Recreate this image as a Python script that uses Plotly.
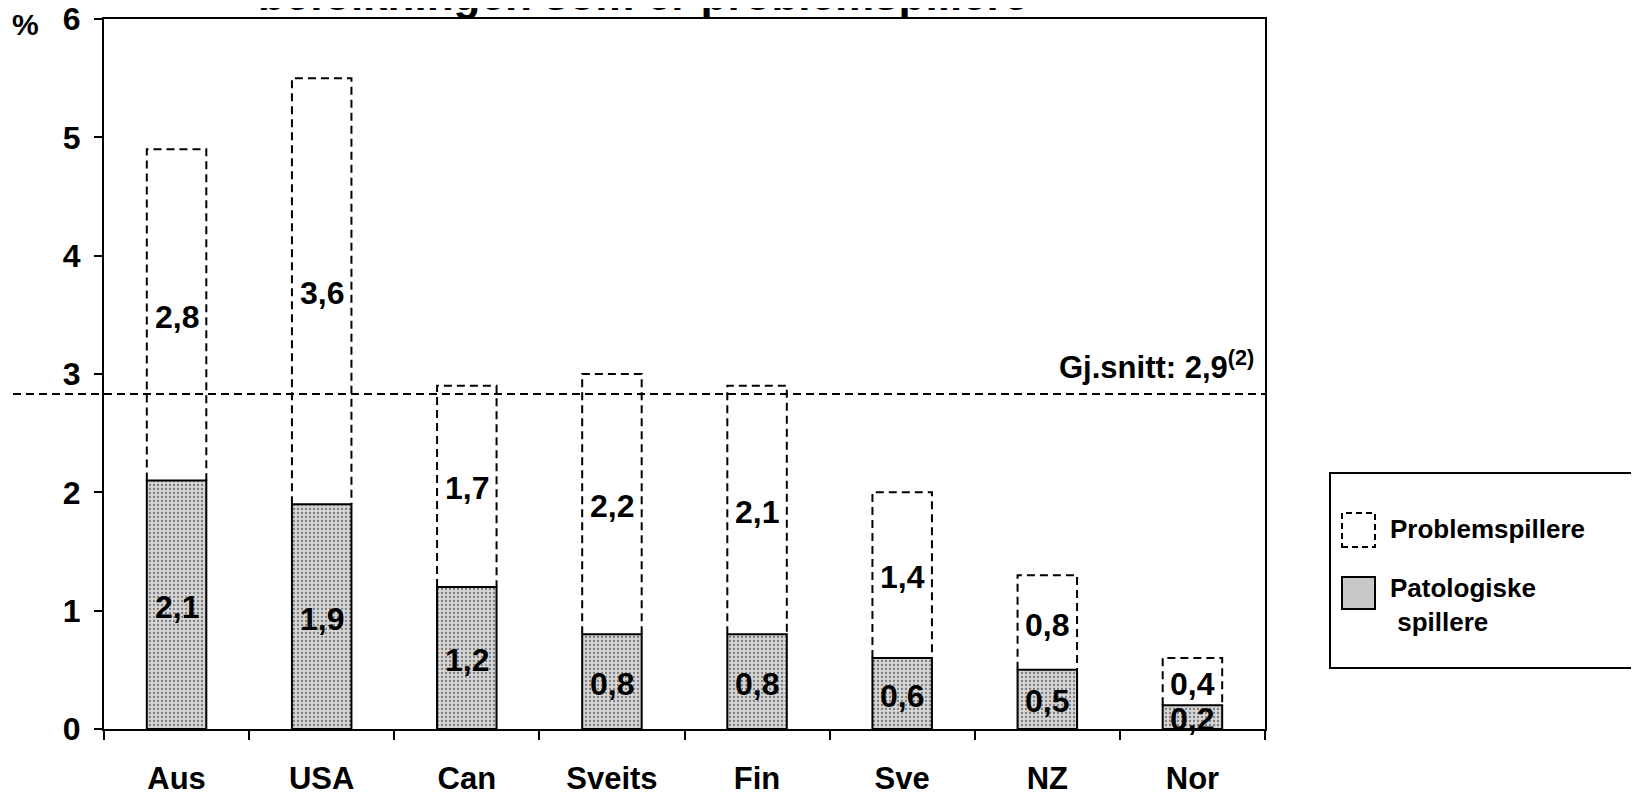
import plotly.graph_objects as go

countries = ["Aus", "USA", "Can", "Sveits", "Fin", "Sve", "NZ", "Nor"]
patologiske = [2.1, 1.9, 1.2, 0.8, 0.8, 0.6, 0.5, 0.2]
problem = [2.8, 3.6, 1.7, 2.2, 2.1, 1.4, 0.8, 0.4]
avg_line = 2.83
avg_label = "Gj.snitt: 2,9<sup>(2)</sup>"
title_text = "befolkningen som er problemspillere"

FONT = "Liberation Sans, Arial, sans-serif"
W, H = 1639, 794
OFF = 8  # page body margin
# plot box on the page: x 104..1265, y 19..729
L, T = 104 - OFF, 19 - OFF
R, B = W - (1265 - OFF), H - (729 - OFF)
BAR_W = 0.41


def px(x):
    # page pixel -> paper fraction
    return (x - OFF - L) / (W - L - R)


def py(y):
    return (H - B - (y - OFF)) / (H - T - B)


def fmt(v):
    return f"{v:.1f}".replace(".", ",")


xs = list(range(len(countries)))
totals = [a + b for a, b in zip(patologiske, problem)]

# dashed outline for the upper segment
ox, oy = [], []
for i, (base, top) in enumerate(zip(patologiske, totals)):
    ox += [i - BAR_W / 2, i - BAR_W / 2, i + BAR_W / 2, i + BAR_W / 2, None]
    oy += [base, top, top, base, None]

fig = go.Figure()

fig.add_trace(go.Bar(
    x=xs, y=patologiske, width=BAR_W, name="Patologiske spillere",
    marker=dict(
        color="#cfcfcf",
        line=dict(color="black", width=2),
        pattern=dict(shape=".", size=4, solidity=0.25,
                     fgcolor="#7a7a7a", bgcolor="#d6d6d6", fillmode="replace"),
    ),
))
fig.add_trace(go.Bar(
    x=xs, y=problem, base=patologiske, width=BAR_W, name="Problemspillere",
    marker=dict(color="rgba(255,255,255,0)", line=dict(width=0)),
))
fig.add_trace(go.Scatter(
    x=ox, y=oy, mode="lines", xaxis="x2",
    line=dict(color="black", width=2, dash="8px,5px"),
))

# value labels, centred in each segment
label_font = dict(family=FONT, size=32, color="black", weight="bold")
for i, (p, q) in enumerate(zip(patologiske, problem)):
    fig.add_annotation(x=i, y=p / 2, text=fmt(p), showarrow=False,
                       yshift=-2, font=label_font)
    fig.add_annotation(x=i, y=p + q / 2, text=fmt(q), showarrow=False,
                       yshift=-2, font=label_font)

# average line, running out to the left page edge
fig.add_shape(type="line", xref="paper", yref="y", x0=px(0), x1=1,
              y0=avg_line, y1=avg_line, layer="above",
              line=dict(color="black", width=2, dash="8px,5px"))
fig.add_annotation(xref="paper", yref="y", x=px(1256), y=avg_line,
                   xanchor="right", yanchor="bottom", yshift=7,
                   text=avg_label, showarrow=False,
                   font=dict(family=FONT, size=31, color="black", weight="bold"))

# title (cut at the top)
fig.add_annotation(xref="paper", yref="paper", x=px(643), y=1,
                   xanchor="center", yanchor="bottom", yshift=-2,
                   text=title_text, showarrow=False,
                   font=dict(family=FONT, size=44, color="black", weight="bold"))

# % sign
fig.add_annotation(xref="paper", yref="y", x=px(25), y=6,
                   xanchor="center", yanchor="middle", yshift=-5,
                   text="%", showarrow=False,
                   font=dict(family=FONT, size=30, color="black", weight="bold"))

# legend box
fig.add_shape(type="rect", xref="paper", yref="paper",
              x0=px(1330), x1=px(1636), y0=py(668), y1=py(473),
              line=dict(color="black", width=2), fillcolor="white")
fig.add_shape(type="rect", xref="paper", yref="paper",
              x0=px(1342), x1=px(1375), y0=py(547), y1=py(513),
              line=dict(color="black", width=2, dash="6px,4px"))
fig.add_shape(type="rect", xref="paper", yref="paper",
              x0=px(1342), x1=px(1375), y0=py(609), y1=py(577),
              line=dict(color="black", width=2), fillcolor="#c8c8c8")
legend_font = dict(family=FONT, size=26, color="black", weight="bold")
fig.add_annotation(xref="paper", yref="paper", x=px(1388), y=py(529),
                   xanchor="left", yanchor="middle", text="Problemspillere",
                   showarrow=False, align="left", font=legend_font)
fig.add_annotation(xref="paper", yref="paper", x=px(1388), y=py(605),
                   xanchor="left", yanchor="middle", text="Patologiske<br> spillere",
                   showarrow=False, align="left", font=legend_font)

axis_font = dict(family=FONT, size=32, color="black", weight="bold")
fig.update_layout(
    width=W, height=H,
    margin=dict(l=L, r=R, t=T, b=B, autoexpand=False),
    paper_bgcolor="white", plot_bgcolor="white",
    barmode="overlay", showlegend=False,
    xaxis=dict(range=[-0.5, len(countries) - 0.5], tickvals=xs, ticktext=countries,
               ticks="", showgrid=False, zeroline=False, automargin=False,
               showline=True, linecolor="black", linewidth=2, mirror=True,
               tickfont=dict(family=FONT, size=31, color="black", weight="bold"),
               ticklabelstandoff=21, ticklabeloverflow="allow"),
    xaxis2=dict(range=[-0.5, len(countries) - 0.5], overlaying="x", anchor="y",
                side="bottom", tickvals=[i - 0.5 for i in range(len(countries) + 1)],
                ticks="outside", ticklen=10, tickwidth=2, tickcolor="black",
                showticklabels=False, showgrid=False, zeroline=False,
                showline=False, automargin=False),
    yaxis=dict(range=[0, 6], tickvals=list(range(7)), ticks="outside", ticklen=8,
               tickwidth=2, tickcolor="black", showgrid=False, zeroline=False,
               showline=True, linecolor="black", linewidth=2, mirror=True,
               automargin=False, tickfont=axis_font, ticklabelstandoff=7,
               ticklabeloverflow="allow"),
)

fig.write_html("out.html")
